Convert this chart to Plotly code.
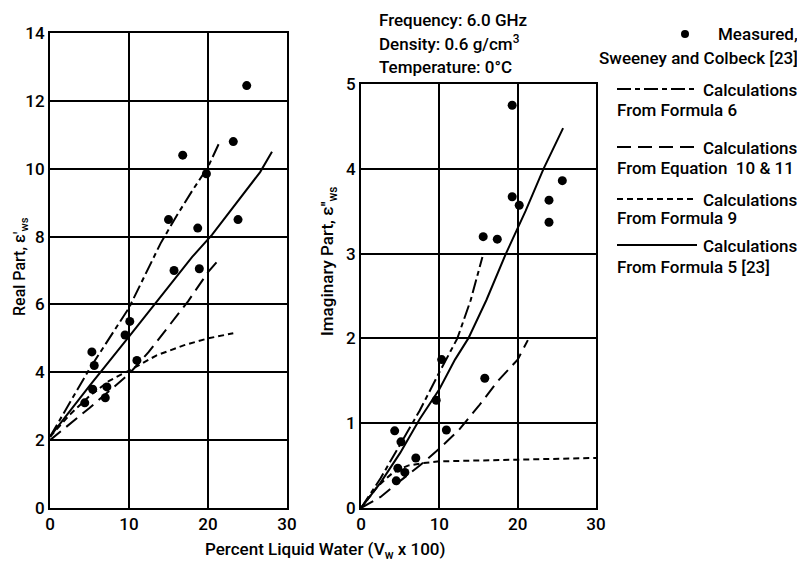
import plotly.graph_objects as go

# page body has an 8px margin; the figure is sized to fill the rest of the window
OFF = 8
W, H = 805 - OFF, 568 - OFF
FONT = "Roboto, Liberation Sans Narrow, sans-serif"
FS = 17

# ---- Left panel: real part ----
meas_left_x = [4.4, 5.3, 5.4, 5.6, 7.0, 7.2, 9.5, 10.1, 11.0, 15.0, 15.7, 16.8, 18.7, 18.9, 19.8, 23.2, 23.8, 24.9]
meas_left_y = [3.1, 4.6, 3.5, 4.2, 3.25, 3.57, 5.1, 5.5, 4.35, 8.5, 7.0, 10.4, 8.25, 7.05, 9.85, 10.8, 8.5, 12.45]

f6_left_x = [0, 5, 10, 12, 14, 16, 18, 20, 21.5]
f6_left_y = [2.1, 4.1, 5.9, 6.85, 7.8, 8.6, 9.35, 10.05, 10.8]

eq_left_x = [0, 5, 10, 12.5, 15, 17.5, 20, 21.3]
eq_left_y = [2.0, 2.95, 3.95, 4.6, 5.35, 6.1, 6.95, 7.3]

f9_left_x = [0, 2.5, 5, 7.5, 10, 13.5, 17, 20, 23.2]
f9_left_y = [2.1, 2.75, 3.3, 3.75, 4.05, 4.5, 4.8, 5.0, 5.15]

f5_left_x = [0, 5, 10, 15, 18, 20.5, 24, 26.6, 28.1]
f5_left_y = [2.1, 3.6, 5.05, 6.5, 7.4, 8.05, 9.1, 9.9, 10.5]

# ---- Right panel: imaginary part ----
meas_right_x = [4.3, 4.5, 4.7, 5.1, 5.6, 7.0, 9.6, 10.3, 10.9, 15.6, 15.8, 17.4, 19.3, 19.3, 20.2, 24.0, 24.0, 25.7]
meas_right_y = [0.91, 0.32, 0.47, 0.78, 0.42, 0.59, 1.27, 1.75, 0.92, 3.2, 1.53, 3.17, 4.75, 3.67, 3.57, 3.63, 3.37, 3.86]

f6_right_x = [0, 2.5, 5, 7.5, 10, 12.3, 14, 15.5]
f6_right_y = [0, 0.35, 0.75, 1.15, 1.6, 2.0, 2.45, 2.96]

eq_right_x = [0, 2.5, 5, 7.5, 10, 12.5, 15, 17.5, 20, 21.3]
eq_right_y = [0, 0.13, 0.32, 0.5, 0.7, 0.92, 1.2, 1.5, 1.75, 1.98]

f9_right_x = [0, 1, 2, 3, 4, 5, 6, 8, 10, 15, 20, 25, 30]
f9_right_y = [0, 0.12, 0.24, 0.33, 0.41, 0.46, 0.5, 0.53, 0.55, 0.56, 0.57, 0.58, 0.59]

f5_right_x = [0, 2.5, 5, 7.5, 10, 12, 13.7, 16, 18.5, 21, 23.3, 25.8]
f5_right_y = [0, 0.3, 0.65, 1.05, 1.4, 1.75, 2.0, 2.45, 3.0, 3.5, 4.0, 4.48]

x_ticks = [0, 10, 20, 30]
left_y_ticks = [0, 2, 4, 6, 8, 10, 12, 14]
right_y_ticks = [0, 1, 2, 3, 4, 5]

DASH_F6 = "14px,4px,5px,4px"
DASH_EQ = "14px,7px"
DASH_F9 = "6px,4px"

fig = go.Figure()

def add_set(xa, ya, mx, my, f6, eq, f9, f5):
    for (xs, ys), dash in [(f6, DASH_F6), (eq, DASH_EQ), (f9, DASH_F9), (f5, "solid")]:
        fig.add_trace(go.Scatter(x=xs, y=ys, mode="lines", xaxis=xa, yaxis=ya,
                                 line=dict(color="black", width=2, dash=dash),
                                 showlegend=False, hoverinfo="skip"))
    fig.add_trace(go.Scatter(x=mx, y=my, mode="markers", xaxis=xa, yaxis=ya,
                             marker=dict(color="black", size=9), showlegend=False))

add_set("x", "y", meas_left_x, meas_left_y,
        (f6_left_x, f6_left_y), (eq_left_x, eq_left_y),
        (f9_left_x, f9_left_y), (f5_left_x, f5_left_y))
add_set("x2", "y2", meas_right_x, meas_right_y,
        (f6_right_x, f6_right_y), (eq_right_x, eq_right_y),
        (f9_right_x, f9_right_y), (f5_right_x, f5_right_y))

def px(x):
    return (x - OFF) / W

def py(y):
    return 1 - (y - OFF) / H

axis_common = dict(showgrid=True, gridcolor="black", gridwidth=1.5, showline=True,
                   linecolor="black", linewidth=2, mirror=True, zeroline=False,
                   ticks="", automargin=False,
                   tickfont=dict(family=FONT, size=FS, color="black", weight=500),
                   fixedrange=True)

fig.update_layout(
    width=W, height=H, paper_bgcolor="white", plot_bgcolor="white",
    margin=dict(l=0, r=0, t=0, b=0, autoexpand=False),
    font=dict(family=FONT, color="black", size=FS),
    xaxis=dict(domain=[px(50), px(287)], range=[0, 30], tickvals=x_ticks, anchor="y", **axis_common),
    yaxis=dict(domain=[py(508), py(33)], range=[0, 14], tickvals=left_y_ticks, anchor="x", **axis_common),
    xaxis2=dict(domain=[px(361), px(596)], range=[0, 30], tickvals=x_ticks, anchor="y2", **axis_common),
    yaxis2=dict(domain=[py(508), py(84)], range=[0, 5], tickvals=right_y_ticks, anchor="x2", **axis_common),
    showlegend=False,
)

ann = []
def text(x, y, s, anchor="left", size=FS, angle=0):
    ann.append(dict(x=px(x), y=py(y), xref="paper", yref="paper", text=s, showarrow=False,
                    xanchor=anchor, yanchor="middle", textangle=angle,
                    font=dict(family=FONT, size=size, color="black", weight=500)))

# top info
text(377, 20, "Frequency: 6.0 GHz")
text(377, 43, "Density: 0.6 g/cm<sup>3</sup>")
text(377, 67, "Temperature: 0°C")

# axis titles
text(325, 550, "Percent Liquid Water (V<sub>w</sub> x 100)", anchor="center")
text(20, 267, "Real Part, ε'<sub>ws</sub>", anchor="center", angle=-90, size=16)
text(329, 262, "Imaginary Part, ε''<sub>ws</sub>", anchor="center", angle=-90)

# legend
text(800, 34, "Measured,", anchor="right")
text(800, 58, "Sweeney and Colbeck [23]", anchor="right")
rows = [(90, 110, "From Formula 6", DASH_F6),
        (148, 168, "From Equation  10 &amp; 11", DASH_EQ),
        (200, 218, "From Formula 9", DASH_F9),
        (246, 267, "From Formula 5 [23]", "solid")]
shapes = []
for yk, y2, label, dash in rows:
    text(800, yk, "Calculations", anchor="right")
    text(615, y2, label)
    shapes.append(dict(type="line", xref="paper", yref="paper", x0=px(617), x1=px(697),
                       y0=py(yk - 1), y1=py(yk - 1), line=dict(color="black", width=2, dash=dash)))
shapes.append(dict(type="circle", xref="paper", yref="paper", x0=px(681), x1=px(689),
                   y0=py(38), y1=py(30), fillcolor="black", line=dict(color="black", width=0)))

fig.update_layout(annotations=ann, shapes=shapes)
fig.write_html("out.html")
